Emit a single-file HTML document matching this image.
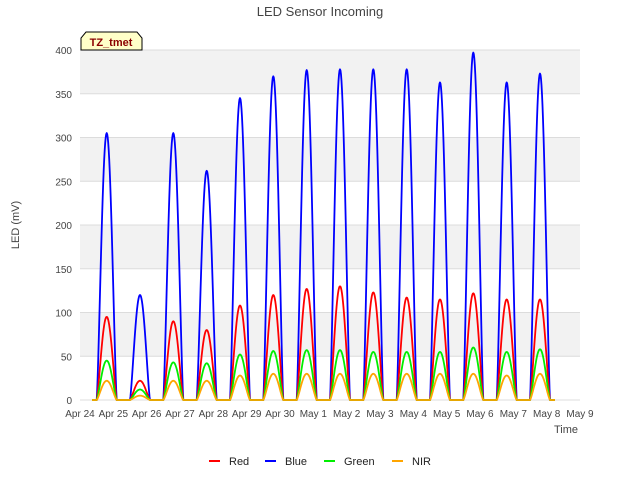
<!DOCTYPE html>
<html><head><meta charset="utf-8"><style>
body{margin:0;background:#fff;font-family:"Liberation Sans",sans-serif}
</style></head><body>
<svg id="c" width="640" height="480" xmlns="http://www.w3.org/2000/svg" font-family="Liberation Sans, sans-serif">
<rect width="640" height="480" fill="#fff"/>
<text x="320" y="16" text-anchor="middle" font-size="13" fill="#444">LED Sensor Incoming</text>
<g id="plot"></g>
<text x="19" y="225" font-size="11" fill="#444" text-anchor="middle" transform="rotate(-90 19 225)">LED (mV)</text>
<text x="566" y="433" font-size="11" fill="#444" text-anchor="middle">Time</text>
<g>
<path d="M81,50 L81,38 L86,32 L137,32 L142,38 L142,50 Z" fill="#ffffc8" stroke="#000" stroke-width="1"/>
<text x="111" y="46" font-size="11" font-weight="bold" fill="#8b0000" text-anchor="middle">TZ_tmet</text>
</g>
<g id="legend"></g>
</svg>
<script>
const days = ["Apr 24","Apr 25","Apr 26","Apr 27","Apr 28","Apr 29","Apr 30","May 1","May 2","May 3","May 4","May 5","May 6","May 7","May 8","May 9"];
const yTicks = [0,50,100,150,200,250,300,350,400];
const bluePeaks  = [305,120,305,262,345,370,377,378,378,378,363,397,363,373];
const redPeaks   = [95,22,90,80,108,120,127,130,123,117,115,122,115,115];
const greenPeaks = [45,12,43,42,52,56,57,57,55,55,55,60,55,58];
const nirPeaks   = [22,5,22,22,28,30,30,30,30,30,30,30,28,30];
const NS="http://www.w3.org/2000/svg";
const X0=80,X1=580,Y0=400,Y1=50;
const xs=d=>X0+(X1-X0)*d/15;
const ys=v=>Y0-(Y0-Y1)*v/400;
const plot=document.getElementById('plot');
function mk(t,a,p){const e=document.createElementNS(NS,t);for(const k in a)e.setAttribute(k,a[k]);(p||plot).appendChild(e);return e;}
const bg=mk('rect',{x:X0,y:Y1,width:X1-X0,height:Y0-Y1,fill:'#fff'});


for(let i=0;i<yTicks.length-1;i++){
  if(i%2===1){const b=mk('rect',{x:X0,y:ys(yTicks[i+1]),width:X1-X0,height:ys(yTicks[i])-ys(yTicks[i+1]),fill:'#f2f2f2'});
  
  }
}
yTicks.forEach(v=>{
  const l=mk('line',{x1:X0,x2:X1,y1:ys(v),y2:ys(v),stroke:'#dcdcdc','stroke-width':1});
  
  
  const t=mk('text',{x:X0-8,y:ys(v)+4,'text-anchor':'end','font-size':10,fill:'#444'});
  t.textContent=v;
  
  
});
days.forEach((d,i)=>{
  const t=mk('text',{x:xs(i),y:Y0+17,'text-anchor':'middle','font-size':10,fill:'#444'});
  t.textContent=d;
  
  
});
function series(peaks,color,name){
  let pts=[];
  const N=40;
  pts.push([xs(0.36),ys(0)]);
  peaks.forEach((p,d)=>{
    const s=d+0.5,e=d+1.1;
    for(let k=0;k<=N;k++){
      const f=k/N;const v=p*Math.pow(Math.sin(Math.PI*f),1.3);
      pts.push([xs(s+(e-s)*f),ys(v)]);
    }
  });
  pts.push([xs(14.25),ys(0)]);
  const pl=mk('polyline',{points:pts.map(p=>p[0].toFixed(1)+','+p[1].toFixed(1)).join(' '),fill:'none',stroke:color,'stroke-width':1.8,'stroke-linejoin':'round'});
  
  
}
series(bluePeaks,'#0000ff','blue-series');
series(redPeaks,'#ff0000','red-series');
series(greenPeaks,'#00ee00','green-series');
series(nirPeaks,'#ffa500','nir-series');
const lg=document.getElementById('legend');
[["Red","#ff0000",209],["Blue","#0000ff",265],["Green","#00ee00",324],["NIR","#ffa500",392]].forEach(([n,c,x])=>{
  const g=mk('g',{},lg);
  
  
  mk('line',{x1:x,x2:x+11,y1:461,y2:461,stroke:c,'stroke-width':2},g);
  const t=mk('text',{x:x+20,y:465,'font-size':11,fill:'#222'},g);
  t.textContent=n;
});
</script>
</body></html>
